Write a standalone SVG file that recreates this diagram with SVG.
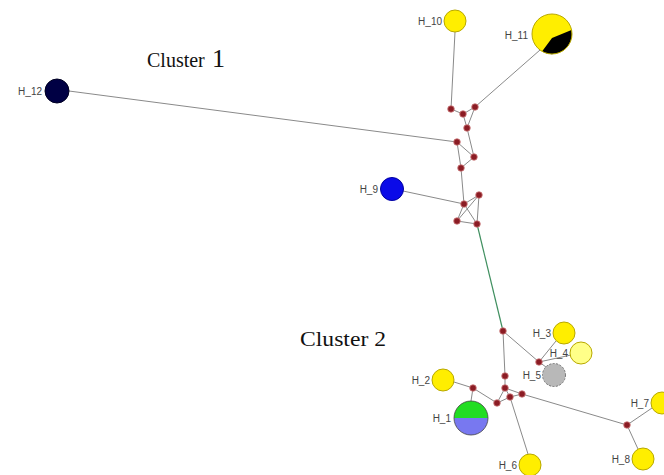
<svg xmlns="http://www.w3.org/2000/svg" width="664" height="475" viewBox="0 0 664 475">
<style>
.e{stroke:#8a8a8a;stroke-width:1;fill:none}
.g{stroke:#3f8f5f;stroke-width:1.2;fill:none}
.mv{fill:#8b1c24;stroke:#d08080;stroke-width:0.8}
.lab{font-family:"Liberation Sans",Arial,sans-serif;font-size:10px;fill:#444;text-anchor:end}
.ttl{font-family:"Liberation Serif","Times New Roman",serif;fill:#111}
.y{fill:#ffee00;stroke:#b8a800;stroke-width:1}
</style>
<rect width="664" height="475" fill="#fff"/>
<g id="connectors">
<line class="e" x1="455" y1="32" x2="451" y2="109"/>
<line class="e" x1="540" y1="50" x2="475" y2="107"/>
<line class="e" x1="451" y1="109" x2="463" y2="114"/>
<line class="e" x1="463" y1="114" x2="475" y2="107"/>
<line class="e" x1="475" y1="107" x2="467" y2="128"/>
<line class="e" x1="463" y1="114" x2="467" y2="128"/>
<line class="e" x1="467" y1="128" x2="474" y2="157"/>
<line class="e" x1="69" y1="91" x2="457" y2="142"/>
<line class="e" x1="457" y1="142" x2="474" y2="157"/>
<line class="e" x1="474" y1="157" x2="461" y2="168"/>
<line class="e" x1="457" y1="142" x2="461" y2="168"/>
<line class="e" x1="461" y1="168" x2="464" y2="204"/>
<line class="e" x1="403" y1="191" x2="464" y2="204"/>
<line class="e" x1="464" y1="204" x2="479" y2="195"/>
<line class="e" x1="464" y1="204" x2="457" y2="221"/>
<line class="e" x1="464" y1="204" x2="477" y2="224"/>
<line class="e" x1="479" y1="195" x2="477" y2="224"/>
<line class="e" x1="457" y1="221" x2="477" y2="224"/>
<line class="e" x1="457" y1="221" x2="479" y2="195"/>
<line class="g" x1="477" y1="224" x2="503" y2="331"/>
<line class="e" x1="503" y1="331" x2="505" y2="376"/>
<line class="e" x1="503" y1="331" x2="539" y2="362"/>
<line class="e" x1="539" y1="362" x2="556" y2="341"/>
<line class="e" x1="539" y1="362" x2="571" y2="355"/>
<line class="e" x1="539" y1="362" x2="546" y2="367"/>
<line class="e" x1="505" y1="376" x2="505" y2="388"/>
<line class="e" x1="505" y1="388" x2="522" y2="394"/>
<line class="e" x1="505" y1="388" x2="497" y2="403"/>
<line class="e" x1="505" y1="388" x2="510" y2="397"/>
<line class="e" x1="510" y1="397" x2="522" y2="394"/>
<line class="e" x1="497" y1="403" x2="510" y2="397"/>
<line class="e" x1="454" y1="382" x2="473" y2="388"/>
<line class="e" x1="473" y1="388" x2="497" y2="403"/>
<line class="e" x1="473" y1="388" x2="471" y2="401"/>
<line class="e" x1="510" y1="397" x2="528" y2="454"/>
<line class="e" x1="522" y1="394" x2="627" y2="425"/>
<line class="e" x1="627" y1="425" x2="652" y2="408"/>
<line class="e" x1="627" y1="425" x2="638" y2="449"/>
</g>
<g id="medians">
<circle class="mv" cx="451" cy="109" r="3.3"/>
<circle class="mv" cx="463" cy="114" r="3.3"/>
<circle class="mv" cx="475" cy="107" r="3.3"/>
<circle class="mv" cx="467" cy="128" r="3.3"/>
<circle class="mv" cx="457" cy="142" r="3.3"/>
<circle class="mv" cx="474" cy="157" r="3.3"/>
<circle class="mv" cx="461" cy="168" r="3.3"/>
<circle class="mv" cx="464" cy="204" r="3.3"/>
<circle class="mv" cx="479" cy="195" r="3.3"/>
<circle class="mv" cx="457" cy="221" r="3.3"/>
<circle class="mv" cx="477" cy="224" r="3.3"/>
<circle class="mv" cx="503" cy="331" r="3.3"/>
<circle class="mv" cx="539" cy="362" r="3.3"/>
<circle class="mv" cx="505" cy="376" r="3.3"/>
<circle class="mv" cx="473" cy="388" r="3.3"/>
<circle class="mv" cx="505" cy="388" r="3.3"/>
<circle class="mv" cx="522" cy="394" r="3.3"/>
<circle class="mv" cx="510" cy="397" r="3.3"/>
<circle class="mv" cx="497" cy="403" r="3.3"/>
<circle class="mv" cx="627" cy="425" r="3.3"/>
</g>
<g id="H_10"><circle class="y" cx="455" cy="21" r="11"/><text class="lab" x="442" y="25">H_10</text></g>
<g id="H_11">
<circle cx="552" cy="34" r="20" fill="#ffee00"/>
<path d="M552,38 L571.5,30 A20,20 0 0 1 542,51.5 Z" fill="#000"/>
<circle cx="552" cy="34" r="20" fill="none" stroke="#b8a800" stroke-width="1"/>
<text class="lab" x="528" y="39">H_11</text></g>
<g id="H_12"><circle cx="57" cy="91" r="12" fill="#000044" stroke="#000022"/><text class="lab" x="42" y="95">H_12</text></g>
<g id="H_9"><circle cx="392" cy="189" r="11.5" fill="#0a0ae8" stroke="#0000a0"/><text class="lab" x="378" y="193">H_9</text></g>
<g id="H_3"><circle class="y" cx="564" cy="333" r="11"/><text class="lab" x="551" y="337">H_3</text></g>
<g id="H_4"><circle cx="581" cy="353" r="11" fill="#ffff88" stroke="#b8a800"/><text class="lab" x="568" y="357">H_4</text></g>
<g id="H_5"><circle cx="554" cy="375" r="11.5" fill="#b8b8b8" stroke="#777" stroke-dasharray="2,1.5"/><text class="lab" x="541" y="379">H_5</text></g>
<g id="H_2"><circle class="y" cx="443" cy="380" r="11"/><text class="lab" x="430" y="384">H_2</text></g>
<g id="H_1">
<path d="M454,418 A17,17 0 0 1 488,418 Z" fill="#22dd22"/>
<path d="M454,418 A17,17 0 0 0 488,418 Z" fill="#7878f0"/>
<circle cx="471" cy="418" r="17" fill="none" stroke="#444" stroke-width="0.8"/>
<text class="lab" x="451" y="422">H_1</text></g>
<g id="H_6"><circle class="y" cx="530" cy="465" r="11"/><text class="lab" x="517" y="469">H_6</text></g>
<g id="H_7"><circle class="y" cx="662" cy="403" r="11"/><text class="lab" x="649" y="407">H_7</text></g>
<g id="H_8"><circle class="y" cx="643" cy="459" r="11"/><text class="lab" x="630" y="463">H_8</text></g>
<g id="titles">
<text class="ttl" x="147" y="67" font-size="20">Cluster <tspan x="212" font-size="26">1</tspan></text>
<text class="ttl" x="300" y="346" font-size="22" textLength="86" lengthAdjust="spacingAndGlyphs">Cluster 2</text>
</g>
</svg>
